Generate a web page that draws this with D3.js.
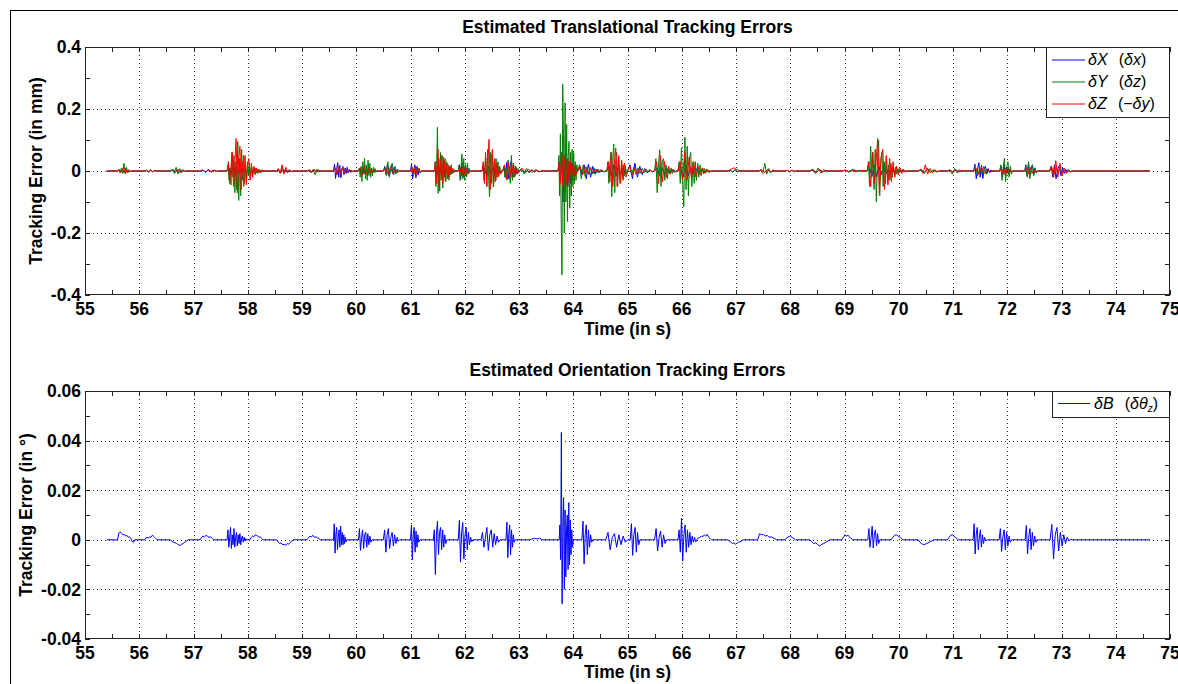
<!DOCTYPE html>
<html>
<head>
<meta charset="utf-8">
<script src="https://cdn.jsdelivr.net/npm/d3@7"></script>
<style>
  html, body { margin: 0; padding: 0; background: #fff; }
  svg { display: block; }
  text { font-family: "Liberation Sans", Arial, Helvetica, sans-serif; }
</style>
</head>
<body>
<svg id="chart" width="1178" height="684"></svg>
<script>
// ---------------- DATA ----------------
const titles = ["Estimated Translational Tracking Errors", "Estimated Orientation Tracking Errors"];
const xLabel = "Time (in s)";
const yLabels = ["Tracking Error (in mm)", "Tracking Error (in \u00B0)"];
const xDomain = [55, 75];
const xMajorTicks = [55,56,57,58,59,60,61,62,63,64,65,66,67,68,69,70,71,72,73,74,75];
const xMinorTicks = [55.5,56.5,57.5,58.5,59.5,60.5,61.5,62.5,63.5,64.5,65.5,66.5,67.5,68.5,69.5,70.5,71.5,72.5,73.5,74.5];
const yDomainTop = [-0.4, 0.4];
const yTicksTop = [-0.4, -0.2, 0, 0.2, 0.4];
const yMinorTop = [-0.3, -0.1, 0.1, 0.3];
const yDomainBottom = [-0.04, 0.06];
const yTicksBottom = [-0.04, -0.02, 0, 0.02, 0.04, 0.06];
const yMinorBottom = [-0.03, -0.01, 0.01, 0.03, 0.05];
const signalStart = 55.4, signalEnd = 74.63;

// bursts: [tStart, tEnd, values]  (mm)
const burstsX = [
 [55.6,55.86,[.004,-.003,.005,-.004,.003,-.002,.002,-.001]],
 [56.1,56.32,[.002,-.002,.003,-.002,.001]],
 [56.58,56.88,[.003,-.004,.004,-.003,.002,-.001]],
 [57.12,57.48,[.002,-.003,.002,-.002,.003,-.001]],
 [57.62,58.35,[.008,-.012,.015,-.018,.012,-.01,.014,-.008,.006,-.007,.005,-.004,.003,-.004,.003,-.002,.002,-.002,.001,-.001]],
 [58.53,58.84,[.003,-.004,.005,-.003,.002,-.002]],
 [59.1,59.38,[.002,-.003,.003,-.002,.002,-.001]],
 [59.58,59.95,[.022,-.024,.005,.027,-.02,.018,-.022,.006,.015,-.012,.01,-.008,.012,-.006,.005,-.004,.003,-.002]],
 [60.04,60.38,[.008,-.01,.012,-.009,.007,-.008,.005,-.004,.003,-.002]],
 [60.5,60.8,[.015,-.012,.024,-.015,.005,.02,-.01,.012,-.008,.005,-.003]],
 [61.0,61.2,[.022,-.025,.005,.02,-.022,.015,-.012,.008,-.005]],
 [61.44,61.82,[.01,-.014,.012,-.016,.01,-.008,.006,-.005,.004,-.003]],
 [61.88,62.1,[.02,-.028,.025,-.02,.005,.015,-.018,.01,-.006]],
 [62.32,62.68,[.01,-.012,.015,-.01,.012,-.014,.008,-.006]],
 [62.7,63.0,[.015,-.02,.028,-.025,.008,.03,-.022,.018,-.015,.01,-.008]],
 [63.0,63.42,[.004,-.003,.003,-.004,.002,-.002,.003,-.002]],
 [63.72,64.08,[.02,-.03,.06,-.1,.05,-.07,.04,-.05,.03,-.04,.025,-.03,.02,-.015,.01]],
 [64.08,64.6,[.01,-.012,.02,-.025,.022,-.02,.015,-.01,.006,-.005,.004,-.003]],
 [64.62,65.0,[.015,-.02,.02,-.015,.012,-.01,.008,-.006]],
 [65.0,65.5,[.02,-.025,.025,-.02,.015,-.012,.008,-.006,.004,-.003]],
 [65.5,65.9,[.01,-.015,.012,-.01,.008,-.006,.004,-.003]],
 [65.93,66.55,[.015,-.02,.018,-.015,.012,-.01,.008,-.006,.004,-.003,.002,-.002]],
 [66.85,67.12,[.002,-.002,.003,-.002,.001]],
 [67.42,67.75,[.003,-.004,.004,-.003,.002]],
 [67.9,68.12,[.002,-.002,.002,-.001]],
 [68.36,68.72,[.003,-.004,.004,-.003,.002]],
 [68.95,69.4,[.002,-.002,.003,-.002,.002,-.001]],
 [69.42,70.15,[.01,-.015,.02,-.018,.015,-.012,.01,-.008,.006,-.005,.004,-.004,.003,-.002,.002,-.001]],
 [70.36,70.75,[.003,-.004,.005,-.003,.002,-.002]],
 [70.9,71.2,[.002,-.003,.003,-.002,.001]],
 [71.38,71.72,[.022,-.025,.006,.027,-.02,.018,-.024,.005,.015,-.01,.008,-.005,.003]],
 [71.86,72.1,[.015,-.02,.02,-.015,.012,-.01,.006,-.004]],
 [72.32,72.56,[.02,-.015,.025,-.018,.005,.02,-.012,.01,-.006]],
 [72.78,73.2,[.015,-.02,.02,-.025,.005,.018,-.015,.01,-.008,.005,-.004,.003,-.002]]
];

const burstsY = [
 [55.6,55.86,[.005,-.006,.01,-.008,.025,-.01,.012,-.006,.004,-.002]],
 [56.1,56.32,[.003,-.004,.004,-.003,.002]],
 [56.58,56.88,[.006,-.008,.012,-.01,.008,-.006,.004,-.002]],
 [57.12,57.48,[.004,-.005,.006,-.004,.003,-.002]],
 [57.62,58.35,[.02,-.03,.01,-.045,.06,-.02,.05,-.07,.03,-.06,.095,-.095,.04,-.08,.07,-.03,.05,-.04,.02,-.035,.03,-.015,.025,-.02,.01,-.015,.012,-.008,.01,-.007,.006,-.005,.004,-.006,.003,-.004,.002,-.003,.002,-.001]],
 [58.53,58.84,[.005,-.008,.01,-.006,.005,-.004,.003,-.002]],
 [59.1,59.38,[.004,-.006,.005,-.012,.006,-.004,.002]],
 [59.58,59.95,[.01,-.012,.015,-.01,.012,-.008,.006,-.005,.004,-.003]],
 [60.04,60.38,[.01,-.02,.015,-.034,.03,-.01,.041,-.025,.02,-.03,.035,-.015,.025,-.02,.01,-.015,.012,-.006,.008,-.004]],
 [60.5,60.8,[.01,-.015,.03,-.02,.005,.025,-.012,.015,-.008,.005]],
 [61.0,61.2,[.008,-.01,.012,-.008,.006,-.004]],
 [61.44,61.82,[.03,-.05,.02,.141,-.072,.04,-.065,.06,-.03,.05,-.055,.045,-.02,.04,-.035,.03,-.025,.02,-.03,.015,-.012,.02,-.01,.008,-.006,.005]],
 [61.88,62.1,[.02,-.03,.01,.055,-.025,.04,-.03,.02,-.015,.025,-.01,.008]],
 [62.32,62.68,[.02,-.03,.01,.04,-.05,.07,-.02,-.083,.06,-.04,.05,-.05,.03,-.035,.04,-.02,.03,-.015,.015,-.01]],
 [62.7,63.0,[.015,-.02,.01,-.03,.035,-.015,-.04,.05,-.03,.025,-.02,.015,-.01,.008]],
 [63.0,63.42,[.008,-.01,.008,-.006,.005,-.004,.003,-.002]],
 [63.72,64.08,[.05,-.08,.12,-.152,-.335,.28,.1,-.2,.22,-.1,.15,-.163,.05,.095,-.12,.06,-.08,.07,-.05,.06,-.04,.03,-.03,.02]],
 [64.08,64.6,[.02,-.025,.02,-.018,.015,-.012,.012,-.01,.008,-.006,.005,-.004,.003,-.002]],
 [64.62,65.0,[.03,-.04,.02,.06,-.083,.04,.087,-.07,.03,.06,-.05,.045,-.02,-.04,.03,-.025,.02,-.015,.015,-.01]],
 [65.0,65.5,[.015,-.012,.012,-.01,.01,-.008,.008,-.006,.005,-.004,.003,-.002]],
 [65.5,65.9,[.04,-.07,.02,.068,-.05,.03,.04,-.03,.02,-.025,.015,-.01,.01,-.008,.005,-.003]],
 [65.93,66.55,[.03,-.04,.075,-.03,-.115,.109,-.06,.08,-.08,.04,.06,-.05,.03,-.04,.03,-.03,.025,-.02,.02,-.015,.01,-.01,.008,-.006,.006,-.004,.003,-.003]],
 [66.85,67.12,[.003,-.004,.005,-.003,.002]],
 [67.42,67.75,[.005,-.008,.025,-.01,.008,-.006,.004,-.002]],
 [67.9,68.12,[.002,-.003,.003,-.002]],
 [68.36,68.72,[.006,-.008,.01,-.007,.005,-.003]],
 [68.95,69.4,[.003,-.004,.005,-.003,.002,-.002]],
 [69.42,70.15,[.03,-.05,.08,-.02,.06,-.06,.07,-.099,.03,.1,-.08,.04,.06,-.05,.03,-.04,.04,-.035,.02,-.03,.025,-.02,.015,-.015,.012,-.01,.008,-.006,.005,-.004,.004,-.003,.002,-.002]],
 [70.36,70.75,[.005,-.008,.01,-.006,.004,-.003]],
 [70.9,71.2,[.004,-.01,.008,-.006,.004,-.002]],
 [71.38,71.72,[.01,-.015,.012,-.01,.015,-.008,.006,-.004]],
 [71.86,72.1,[.02,-.03,.01,.041,-.034,.015,.03,-.02,.015,-.01]],
 [72.32,72.56,[.015,-.02,.03,-.025,.01,.02,-.015,.01,-.006]],
 [72.78,73.2,[.008,-.01,.012,-.008,.006,-.005,.004,-.003,.002,-.002]]
];

const burstsZ = [
 [55.6,55.86,[.004,-.005,.008,-.006,.01,-.005,.003,-.002]],
 [56.1,56.32,[.002,-.003,.003,-.002,.001]],
 [56.58,56.88,[.005,-.004,.006,-.005,.003,-.002]],
 [57.12,57.48,[.003,-.004,.004,-.003,.002,-.001]],
 [57.62,58.35,[.03,-.04,.01,.06,-.05,.02,.105,-.07,.04,.08,-.06,.03,-.05,.05,-.045,.02,.04,-.03,.025,-.02,.015,-.012,.01,-.008,.006,-.005,.004,-.003,.002,-.002]],
 [58.53,58.84,[.008,-.006,.02,-.01,.012,-.006,.004,-.002]],
 [59.1,59.38,[.004,-.005,.006,-.004,.003,-.002]],
 [59.58,59.95,[.01,-.012,.015,-.01,.012,-.008,.006,-.004,.003,-.002]],
 [60.04,60.38,[.01,-.012,.015,-.01,.008,-.006,.004,-.002]],
 [60.5,60.8,[.008,-.01,.012,-.008,.006,-.004]],
 [61.0,61.2,[.012,-.015,.015,-.01,.008,-.005]],
 [61.44,61.82,[.03,-.04,.07,-.05,.02,.05,-.04,.035,-.03,.02,.025,-.02,.015,-.01,.008,-.005]],
 [61.88,62.1,[.012,-.015,.018,-.012,.01,-.008]],
 [62.32,62.68,[.03,-.04,.06,-.05,.02,.102,-.06,.04,.07,-.05,.04,-.03,.025,-.02,.015,-.01]],
 [62.7,63.0,[.02,-.025,.03,-.02,.025,-.02,.015,-.01]],
 [63.0,63.42,[.008,-.006,.006,-.005,.004,-.003]],
 [63.72,64.08,[.03,-.04,.058,-.05,.02,.05,-.045,.04,-.035,.03,-.025,.02,-.015,.012,-.01]],
 [64.08,64.6,[.015,-.012,.012,-.01,.008,-.007,.006,-.005,.004,-.003]],
 [64.62,65.0,[.03,-.035,.06,-.05,.02,.074,-.05,.05,-.04,.035,-.03,.025,-.02]],
 [65.0,65.5,[.015,-.012,.01,-.01,.008,-.006,.005,-.004,.003,-.002]],
 [65.5,65.9,[.03,-.04,.05,-.035,.03,-.02,.015,-.01,.006,-.004]],
 [65.93,66.55,[.03,-.03,.06,-.03,.045,-.025,.03,-.02,.015,-.012,.01,-.008,.006,-.004]],
 [66.85,67.12,[.004,.008,.01,.006,.003,-.002]],
 [67.42,67.75,[.003,-.004,.005,-.003,.002]],
 [67.9,68.12,[.002,-.002,.002,-.001]],
 [68.36,68.72,[.004,-.005,.005,-.003,.002]],
 [68.95,69.4,[.003,-.003,.004,-.002,.002]],
 [69.42,70.15,[.03,-.05,.06,-.04,.02,.105,-.072,.04,.07,-.06,.05,-.045,.04,-.035,.03,-.02,.015,-.012,.01,-.008,.006,-.004]],
 [70.36,70.75,[.006,-.008,.02,-.01,.008,-.006,.004,-.002]],
 [70.9,71.2,[.004,-.005,.005,-.003,.002]],
 [71.38,71.72,[.008,-.01,.012,-.008,.006,-.004]],
 [71.86,72.1,[.008,-.01,.01,-.008,.005,-.003]],
 [72.32,72.56,[.008,-.01,.012,-.008,.006,-.004]],
 [72.78,73.2,[.015,-.02,.033,-.02,.025,-.015,.01,-.008,.005,-.003]]
];

// orientation error bursts (degrees)
const burstsB = [
 [55.6,55.92,[.0028,.0032,.0025,.002,.0022,.0015,.0018,.001,.0012,.0005,-.0008,-.001]],
 [56.1,56.33,[.0008,.001,.0006,.0012,.001,.0018,.0015,.001,.0005]],
 [56.57,56.9,[-.0005,-.001,-.0012,-.0015,-.002,-.0023,-.0018,-.0015,-.001,-.0005]],
 [57.12,57.37,[.001,.0015,.0012,.0018,.0014,.001,.0012,.0006]],
 [57.62,57.98,[.004,-.003,.001,.005,-.0035,.002,-.002,.0045,-.003,.001,.003,-.0025,.002,-.0015,.0025,-.002,.001,.0015,-.001,.001,-.0005,.0005]],
 [58.04,58.28,[.001,.0015,.0012,.002,.0018,.0015,.001,.0012,.0005]],
 [58.53,58.84,[-.0008,-.0015,-.0012,-.002,-.0018,-.0022,-.0015,-.0018,-.001,-.0005]],
 [59.09,59.34,[.0008,.0015,.0012,.0018,.001,.0012,.0008,.0005]],
 [59.58,59.83,[.0065,-.0054,.002,.005,-.004,.001,.004,-.003,.0055,-.002,.003,-.002,.002,-.0015,.001,-.0008]],
 [60.04,60.29,[.0045,-.0043,.001,.004,-.0035,.002,.003,-.003,.0025,-.002,.0015,-.001]],
 [60.5,60.8,[.004,-.005,.002,.0045,-.0035,.001,.003,-.0025,.002,-.0015,.001,-.0005]],
 [61.0,61.17,[.006,-.008,.002,.005,-.005,.0035,-.003,.002,-.001]],
 [61.42,61.67,[.004,-.014,.002,.0075,-.006,.003,.005,-.004,.004,-.003,.002,-.0015]],
 [61.88,62.15,[.0078,-.009,.003,.007,-.0077,.002,.005,-.004,.003,-.002,.001,-.0008]],
 [62.3,62.65,[.003,-.003,.001,.005,-.0043,.002,.004,-.003,.0025,-.002,.0015,-.001]],
 [62.76,62.93,[.0071,-.0072,.002,.006,-.006,.004,-.003,.002,-.001]],
 [63.2,63.45,[.0003,.0006,.0005,.0004,.0006,.0002]],
 [63.74,64.0,[.006,-.008,.0433,-.0258,.005,.017,-.02,.012,-.015,.004,.01,-.012,.015,-.01,.008,-.006,.004,-.003]],
 [64.16,64.36,[.0075,-.0097,.002,.006,-.006,.004,-.003,.002,-.001]],
 [64.6,65.0,[.003,-.004,.001,.0025,-.003,.002,-.002,.0015,-.001]],
 [65.05,65.23,[.0065,-.0063,.002,.005,-.005,.003,-.002]],
 [65.5,65.72,[.0045,-.0045,.001,.0035,-.003,.002,-.0015]],
 [65.93,66.28,[.004,-.005,.0087,-.0086,.002,.006,-.005,.004,-.003,.003,-.002,.0015,-.001,.001,-.0008]],
 [66.28,66.55,[.0008,.001,.0015,.0012,.002,.0015,.0022,.001,.0005]],
 [66.85,67.13,[-.0005,-.001,-.0015,-.0012,-.0018,-.0014,-.001,-.0008,-.0005]],
 [67.4,67.75,[.0025,.002,.0022,.0015,.0018,.001,.0012,.0008,.0005]],
 [67.9,68.1,[.0008,.0012,.0015,.001,.0005]],
 [68.36,68.73,[-.0008,-.0015,-.0012,-.002,-.0025,-.0018,-.0015,-.001,-.0005]],
 [68.95,69.15,[.001,.002,.0015,.0018,.0012,.0005]],
 [69.43,69.65,[.0045,-.003,.001,.0055,-.0033,.002,.004,-.0025,.0025,-.0015]],
 [69.86,70.08,[.001,.0018,.002,.0015,.0012,.0005]],
 [70.36,70.64,[-.001,-.0015,-.002,-.0018,-.0015,-.0012,-.0008,-.0005]],
 [70.9,71.1,[.001,.0018,.002,.0015,.001,.0005]],
 [71.37,71.62,[.0065,-.0057,.002,.005,-.004,.001,.004,-.003,.002,-.0015,.001,-.0005]],
 [71.85,72.08,[.0045,-.0047,.001,.004,-.004,.003,-.0025,.0015,-.001]],
 [72.33,72.55,[.0058,-.0057,.001,.0045,-.004,.003,-.0025,.0015,-.001]],
 [72.79,73.2,[.0062,-.0077,.002,.005,-.0045,.003,-.0025,.002,-.0015,.001,-.0005,.0003]]
];

const seriesTop = [
  { name: "X", bursts: burstsX, color: "#0000ff", leg: [["\u03B4X", true], ["\u2009\u2002(", false], ["\u03B4x", true], [")", false]] },
  { name: "Y", bursts: burstsY, color: "#008000", leg: [["\u03B4Y", true], ["\u2009\u2002(", false], ["\u03B4z", true], [")", false]] },
  { name: "Z", bursts: burstsZ, color: "#ff0000", leg: [["\u03B4Z", true], ["\u2009\u2002(\u2212", false], ["\u03B4y", true], [")", false]] }
];
const seriesBottom = [
  { name: "B", bursts: burstsB, color: "#0000ff" }
];

// ---------------- BUILD POINTS ----------------
function buildPoints(bursts) {
  const pts = [[signalStart, 0]];
  bursts.forEach(([t0, t1, vals]) => {
    const step = (t1 - t0) / (vals.length + 1);
    pts.push([t0, 0]);
    vals.forEach((v, i) => pts.push([t0 + (i + 1) * step, v]));
    pts.push([t1, 0]);
  });
  pts.push([signalEnd, 0]);
  return pts;
}

// ---------------- DRAW ----------------
const svg = d3.select("#chart");
const FONT = 17.5;

// figure frame
svg.append("rect").attr("x", 10.5).attr("y", 10.5).attr("width", 1300).attr("height", 1000)
  .attr("fill", "none").attr("stroke", "#000").attr("stroke-width", 1);

const panels = [
  { top: 47, bottom: 295, yDomain: yDomainTop, yTicks: yTicksTop, yMinor: yMinorTop, series: seriesTop,
    title: titles[0], titleY: 33, ylabel: yLabels[0], ylabelX: 36, xlabelY: 335,
    fmt: d => d === 0 ? "0" : d3.format(".1f")(d).replace("\u2212", "-") },
  { top: 391, bottom: 639, yDomain: yDomainBottom, yTicks: yTicksBottom, yMinor: yMinorBottom, series: seriesBottom,
    title: titles[1], titleY: 376, ylabel: yLabels[1], ylabelX: 26, xlabelY: 678,
    fmt: d => d === 0 ? "0" : d3.format(".2f")(d).replace("\u2212", "-") }
];
const L = 85, R = 1170;
const x = d3.scaleLinear().domain(xDomain).range([L, R]);

panels.forEach((p, pi) => {
  const y = d3.scaleLinear().domain(p.yDomain).range([p.bottom, p.top]);
  const g = svg.append("g");

  g.append("rect").attr("x", L).attr("y", p.top).attr("width", R - L).attr("height", p.bottom - p.top).attr("fill", "#fff");

  // grid
  const gridX = xMajorTicks.filter(t => t > xDomain[0] && t < xDomain[1]);
  g.selectAll(".gx").data(gridX).join("line")
    .attr("x1", d => Math.round(x(d)) + 0.5).attr("x2", d => Math.round(x(d)) + 0.5)
    .attr("y1", p.top).attr("y2", p.bottom)
    .attr("stroke", "#333").attr("stroke-width", 1).attr("stroke-dasharray", "1,3");
  const gridY = p.yTicks.filter(t => t > p.yDomain[0] && t < p.yDomain[1]);
  g.selectAll(".gy").data(gridY).join("line")
    .attr("x1", L).attr("x2", R)
    .attr("y1", d => Math.round(y(d)) + 0.5).attr("y2", d => Math.round(y(d)) + 0.5)
    .attr("stroke", "#333").attr("stroke-width", 1).attr("stroke-dasharray", "1,3");

  // data
  const clipId = "clip" + pi;
  svg.append("clipPath").attr("id", clipId).append("rect")
    .attr("x", L).attr("y", p.top).attr("width", R - L).attr("height", p.bottom - p.top);
  const line = d3.line().x(d => x(d[0])).y(d => y(d[1]));
  const dg = g.append("g").attr("clip-path", `url(#${clipId})`);
  p.series.forEach(s => {
    dg.append("path").datum(buildPoints(s.bursts))
      .attr("d", line).attr("fill", "none").attr("stroke", s.color).attr("stroke-width", 1);
  });

  // ticks (inward, on all four sides)
  const tk = 5;
  const allX = xMajorTicks.concat(xMinorTicks);
  const allY = p.yTicks.concat(p.yMinor);
  const tg = g.append("g").attr("stroke", "#222").attr("stroke-width", 1);
  allX.forEach(t => {
    const xx = Math.round(x(t)) + 0.5;
    tg.append("line").attr("x1", xx).attr("x2", xx).attr("y1", p.bottom).attr("y2", p.bottom - tk);
    tg.append("line").attr("x1", xx).attr("x2", xx).attr("y1", p.top).attr("y2", p.top + tk);
  });
  allY.forEach(t => {
    const yy = Math.round(y(t)) + 0.5;
    tg.append("line").attr("x1", L).attr("x2", L + tk).attr("y1", yy).attr("y2", yy);
    tg.append("line").attr("x1", R).attr("x2", R - tk).attr("y1", yy).attr("y2", yy);
  });

  // box
  g.append("rect").attr("x", L + 0.5).attr("y", p.top + 0.5).attr("width", R - L - 1).attr("height", p.bottom - p.top - 1)
    .attr("fill", "none").attr("stroke", "#222").attr("stroke-width", 1);

  // tick labels
  g.selectAll(".xl").data(xMajorTicks).join("text")
    .attr("x", d => x(d)).attr("y", p.bottom + 20)
    .attr("text-anchor", "middle").attr("font-weight", "bold").attr("font-size", FONT)
    .text(d => d);
  g.selectAll(".yl").data(p.yTicks).join("text")
    .attr("x", L - 4).attr("y", d => y(d)).attr("dy", "0.36em")
    .attr("text-anchor", "end").attr("font-weight", "bold").attr("font-size", FONT)
    .text(p.fmt);

  // titles and labels
  g.append("text").attr("x", (L + R) / 2).attr("y", p.titleY).attr("text-anchor", "middle")
    .attr("font-weight", "bold").attr("font-size", FONT).text(p.title);
  g.append("text").attr("x", (L + R) / 2).attr("y", p.xlabelY).attr("text-anchor", "middle")
    .attr("font-weight", "bold").attr("font-size", FONT).text(xLabel);
  g.append("text").attr("transform", `translate(${p.ylabelX},${(p.top + p.bottom) / 2}) rotate(-90)`)
    .attr("dy", "0.36em").attr("text-anchor", "middle")
    .attr("font-weight", "bold").attr("font-size", FONT).text(p.ylabel);
});

// ---------------- LEGENDS ----------------
function legendText(sel, parts, sub) {
  const t = sel.append("text").attr("font-family", "'Liberation Serif', 'DejaVu Serif', serif").attr("font-size", 16);
  parts.forEach(([s, it]) => t.append("tspan").attr("font-style", it ? "italic" : "normal").text(s));
  if (sub) t.append("tspan").attr("font-style", "italic").attr("font-size", 10).attr("dy", 3).text(sub[0]);
  if (sub) t.append("tspan").attr("dy", -3).text(sub[1]);
  return t;
}
// top legend
{
  const lx = 1046, ly = 47, lw = R - 1046, lh = 70;
  const lg = svg.append("g");
  lg.append("rect").attr("x", lx + 0.5).attr("y", ly + 0.5).attr("width", lw - 1).attr("height", lh)
    .attr("fill", "#fff").attr("stroke", "#222");
  const rowsY = [60, 82, 104];
  seriesTop.forEach((s, i) => {
    lg.append("line").attr("x1", 1052).attr("x2", 1085).attr("y1", rowsY[i]).attr("y2", rowsY[i])
      .attr("stroke", s.color).attr("stroke-width", 1);
    legendText(lg, s.leg).attr("x", 1088).attr("y", rowsY[i] + 5);
  });
}
// bottom legend
{
  const lx = 1052, ly = 391, lw = R - 1052, lh = 26;
  const lg = svg.append("g");
  lg.append("rect").attr("x", lx + 0.5).attr("y", ly + 0.5).attr("width", lw - 1).attr("height", lh)
    .attr("fill", "#fff").attr("stroke", "#222");
  lg.append("line").attr("x1", 1058).attr("x2", 1090).attr("y1", 403.5).attr("y2", 403.5)
    .attr("stroke", seriesBottom[0].color).attr("stroke-width", 1);
  legendText(lg, [["\u03B4B", true], ["\u2009\u2002(", false], ["\u03B4\u03B8", true]], ["z", ")"])
    .attr("x", 1094).attr("y", 409);
}
</script>
</body>
</html>
